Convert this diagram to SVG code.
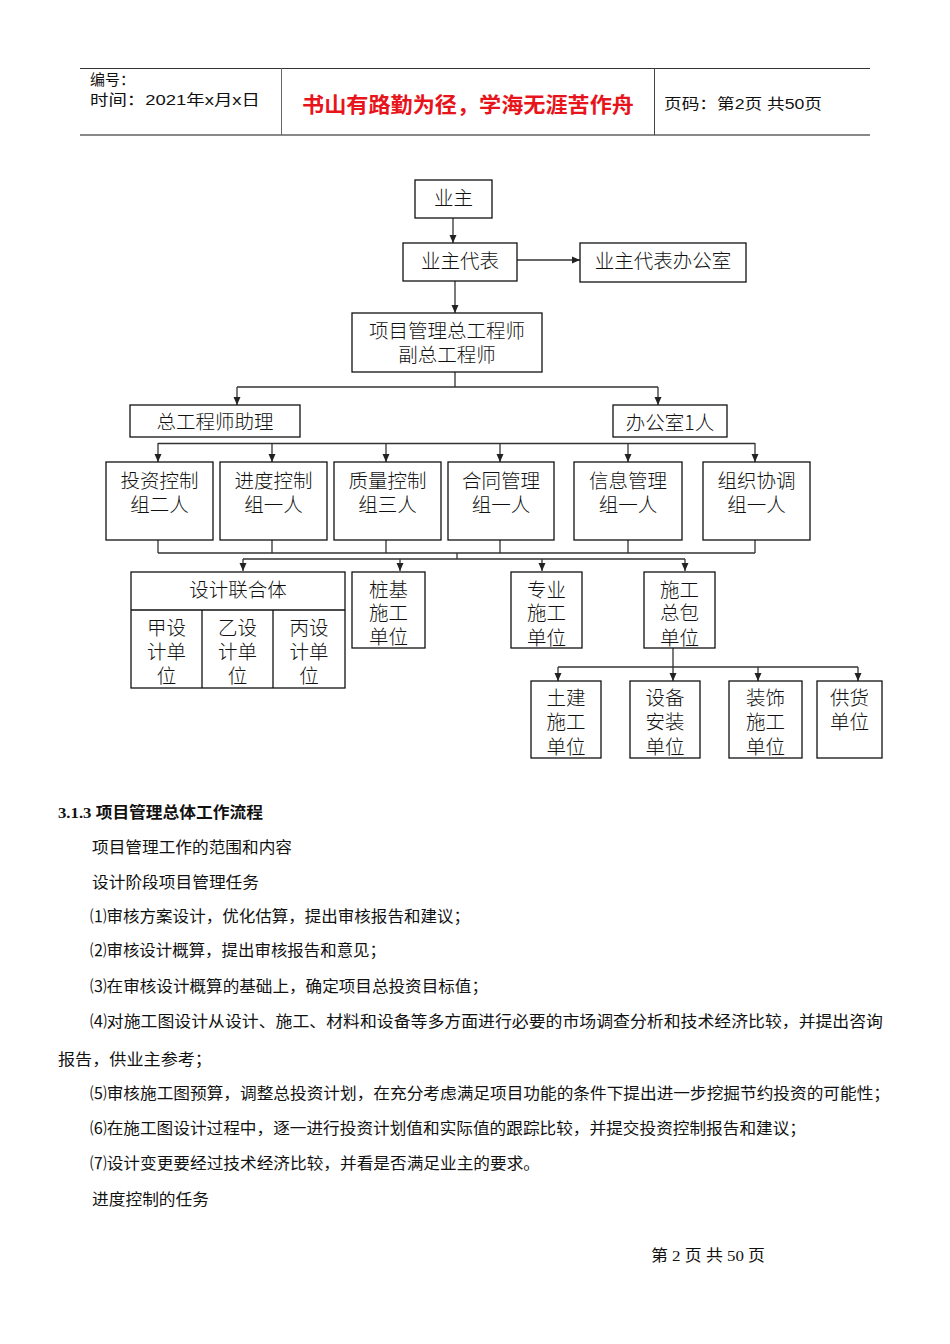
<svg xmlns="http://www.w3.org/2000/svg" width="950" height="1344" viewBox="0 0 950 1344">
<defs>
<marker id="arr" markerWidth="8" markerHeight="8" refX="8" refY="4" orient="auto" markerUnits="userSpaceOnUse">
<path d="M0,0.5 L8,4 L0,7.5 z" fill="#222"/>
</marker>
<style>
.box{fill:#fff;stroke:#111;stroke-width:1.3}
.bt{font-family:"Noto Sans CJK SC","Liberation Sans",sans-serif;font-size:19.5px;font-weight:300;fill:#111;text-anchor:middle}
.con{fill:none;stroke:#333;stroke-width:1.3}
.ca{fill:none;stroke:#333;stroke-width:1.3;marker-end:url(#arr)}
.hd{font-family:"Liberation Sans","Noto Sans CJK SC",sans-serif;font-size:15px;fill:#111}
.body{font-family:"Liberation Serif","Noto Sans CJK SC",serif;font-size:15.5px;fill:#111}
</style>
</defs>
<rect width="950" height="1344" fill="#fff"/>
<g id="header">
<line x1="80" y1="68.5" x2="870" y2="68.5" stroke="#333" stroke-width="1"/>
<line x1="80" y1="135" x2="870" y2="135" stroke="#888" stroke-width="2"/>
<line x1="281.5" y1="68" x2="281.5" y2="135" stroke="#666" stroke-width="1"/>
<line x1="654.5" y1="68" x2="654.5" y2="135" stroke="#444" stroke-width="1"/>
<text class="hd" x="90" y="85">编号：</text>
<text class="hd" x="90" y="105" textLength="170" lengthAdjust="spacingAndGlyphs">时间：2021年x月x日</text>
<text x="468" y="112" font-family="Noto Sans CJK SC,sans-serif" font-size="21" font-weight="bold" fill="#e8141c" text-anchor="middle" textLength="332" lengthAdjust="spacingAndGlyphs">书山有路勤为径，学海无涯苦作舟</text>
<text class="hd" x="664" y="109" textLength="158" lengthAdjust="spacingAndGlyphs">页码：第2页 共50页</text>
</g>
<g id="connectors">
<path class="ca" d="M453,218 V243"/>
<path class="ca" d="M517,260 H580"/>
<path class="ca" d="M455,281 V313"/>
<path class="con" d="M455,372 V387 M237,387 H658"/>
<path class="ca" d="M237,387 V405"/>
<path class="ca" d="M658,387 V405"/>
<path class="con" d="M158,443.5 H755"/>
<path class="ca" d="M158,443 V462"/>
<path class="ca" d="M272,443 V462"/>
<path class="ca" d="M386,443 V462"/>
<path class="ca" d="M500,443 V462"/>
<path class="ca" d="M628,443 V462"/>
<path class="ca" d="M755,443 V462"/>
<path class="con" d="M158,540 V553 M272,540 V553 M386,540 V553 M500,540 V553 M628,540 V553 M755,540 V553 M158,553 H755 M457,553 V559 M243,559 H685"/>
<path class="ca" d="M243,559 V571"/>
<path class="ca" d="M400,559 V571"/>
<path class="ca" d="M542,559 V571"/>
<path class="ca" d="M685,559 V571"/>
<path class="con" d="M558,667 H858"/>
<path class="ca" d="M673,648 V681"/>
<path class="ca" d="M558,667 V681"/>
<path class="ca" d="M758,667 V681"/>
<path class="ca" d="M858,667 V681"/>
</g>
<g id="n-yezhu"><rect class="box" x="415" y="180" width="77" height="38"/><text class="bt" x="453.5" y="205">业主</text></g>
<g id="n-daibiao"><rect class="box" x="403" y="243" width="114" height="38"/><text class="bt" x="460" y="268">业主代表</text></g>
<g id="n-bangongshi"><rect class="box" x="580" y="243" width="166" height="39"/><text class="bt" x="663" y="268">业主代表办公室</text></g>
<g id="n-zonggong"><rect class="box" x="352" y="313" width="190" height="59"/><text class="bt" x="447" y="338">项目管理总工程师</text><text class="bt" x="447" y="362">副总工程师</text></g>
<g id="n-zhuli"><rect class="box" x="130" y="405" width="170" height="32"/><text class="bt" x="215" y="429">总工程师助理</text></g>
<g id="n-office1"><rect class="box" x="613" y="405" width="114" height="32"/><text class="bt" x="670" y="430">办公室1人</text></g>
<g id="n-touzi"><rect class="box" x="106" y="462" width="107" height="78"/><text class="bt" x="159.5" y="488">投资控制</text><text class="bt" x="159.5" y="512">组二人</text></g>
<g id="n-jindu"><rect class="box" x="220" y="462" width="107" height="78"/><text class="bt" x="273.5" y="488">进度控制</text><text class="bt" x="273.5" y="512">组一人</text></g>
<g id="n-zhiliang"><rect class="box" x="334" y="462" width="107" height="78"/><text class="bt" x="387.5" y="488">质量控制</text><text class="bt" x="387.5" y="512">组三人</text></g>
<g id="n-hetong"><rect class="box" x="448" y="462" width="106" height="78"/><text class="bt" x="501" y="488">合同管理</text><text class="bt" x="501" y="512">组一人</text></g>
<g id="n-xinxi"><rect class="box" x="574" y="462" width="108" height="78"/><text class="bt" x="628" y="488">信息管理</text><text class="bt" x="628" y="512">组一人</text></g>
<g id="n-zuzhi"><rect class="box" x="703" y="462" width="107" height="78"/><text class="bt" x="756.5" y="488">组织协调</text><text class="bt" x="756.5" y="512">组一人</text></g>
<g id="n-sheji"><rect class="box" x="131" y="572" width="214" height="116"/>
<line x1="131" y1="610" x2="345" y2="610" stroke="#111" stroke-width="1.3"/>
<line x1="202" y1="610" x2="202" y2="688" stroke="#111" stroke-width="1.3"/>
<line x1="273" y1="610" x2="273" y2="688" stroke="#111" stroke-width="1.3"/>
<text class="bt" x="238" y="597">设计联合体</text>
<text class="bt" x="166.5" y="635">甲设</text><text class="bt" x="166.5" y="659">计单</text><text class="bt" x="166.5" y="683">位</text>
<text class="bt" x="237.5" y="635">乙设</text><text class="bt" x="237.5" y="659">计单</text><text class="bt" x="237.5" y="683">位</text>
<text class="bt" x="309" y="635">丙设</text><text class="bt" x="309" y="659">计单</text><text class="bt" x="309" y="683">位</text>
</g>
<g id="n-zhuangji"><rect class="box" x="352" y="572" width="73" height="76"/><text class="bt" x="388.5" y="597">桩基</text><text class="bt" x="388.5" y="620">施工</text><text class="bt" x="388.5" y="644">单位</text></g>
<g id="n-zhuanye"><rect class="box" x="511" y="572" width="71" height="76"/><text class="bt" x="546.5" y="597">专业</text><text class="bt" x="546.5" y="620">施工</text><text class="bt" x="546.5" y="645">单位</text></g>
<g id="n-zongbao"><rect class="box" x="644" y="572" width="71" height="76"/><text class="bt" x="679.5" y="597">施工</text><text class="bt" x="679.5" y="620">总包</text><text class="bt" x="679.5" y="645">单位</text></g>
<g id="n-tujian"><rect class="box" x="531" y="681" width="70" height="77"/><text class="bt" x="566" y="705">土建</text><text class="bt" x="566" y="729">施工</text><text class="bt" x="566" y="754">单位</text></g>
<g id="n-shebei"><rect class="box" x="630" y="681" width="70" height="77"/><text class="bt" x="665" y="705">设备</text><text class="bt" x="665" y="729">安装</text><text class="bt" x="665" y="754">单位</text></g>
<g id="n-zhuangshi"><rect class="box" x="729" y="681" width="73" height="77"/><text class="bt" x="765.5" y="705">装饰</text><text class="bt" x="765.5" y="729">施工</text><text class="bt" x="765.5" y="754">单位</text></g>
<g id="n-gonghuo"><rect class="box" x="817" y="681" width="65" height="77"/><text class="bt" x="849.5" y="705">供货</text><text class="bt" x="849.5" y="729">单位</text></g>
<g id="body">
<text class="body" x="58" y="818" font-weight="bold" textLength="205" lengthAdjust="spacingAndGlyphs">3.1.3 项目管理总体工作流程</text>
<text class="body" x="92" y="853" textLength="200" lengthAdjust="spacingAndGlyphs">项目管理工作的范围和内容</text>
<text class="body" x="92" y="888" textLength="167" lengthAdjust="spacingAndGlyphs">设计阶段项目管理任务</text>
<text class="body" x="90" y="922" textLength="380" lengthAdjust="spacingAndGlyphs">⑴审核方案设计，优化估算，提出审核报告和建议；</text>
<text class="body" x="90" y="956" textLength="296" lengthAdjust="spacingAndGlyphs">⑵审核设计概算，提出审核报告和意见；</text>
<text class="body" x="90" y="992" textLength="398" lengthAdjust="spacingAndGlyphs">⑶在审核设计概算的基础上，确定项目总投资目标值；</text>
<text class="body" x="90" y="1027" textLength="793" lengthAdjust="spacingAndGlyphs">⑷对施工图设计从设计、施工、材料和设备等多方面进行必要的市场调查分析和技术经济比较，并提出咨询</text>
<text class="body" x="58" y="1065" textLength="154" lengthAdjust="spacingAndGlyphs">报告，供业主参考；</text>
<text class="body" x="90" y="1099" textLength="800" lengthAdjust="spacingAndGlyphs">⑸审核施工图预算，调整总投资计划，在充分考虑满足项目功能的条件下提出进一步挖掘节约投资的可能性；</text>
<text class="body" x="90" y="1134" textLength="716" lengthAdjust="spacingAndGlyphs">⑹在施工图设计过程中，逐一进行投资计划值和实际值的跟踪比较，并提交投资控制报告和建议；</text>
<text class="body" x="90" y="1169" textLength="450" lengthAdjust="spacingAndGlyphs">⑺设计变更要经过技术经济比较，并看是否满足业主的要求。</text>
<text class="body" x="92" y="1205" textLength="117" lengthAdjust="spacingAndGlyphs">进度控制的任务</text>
<text class="body" x="651" y="1261" font-size="13.5" textLength="114" lengthAdjust="spacingAndGlyphs">第 2 页 共 50 页</text>
</g>
</svg>
